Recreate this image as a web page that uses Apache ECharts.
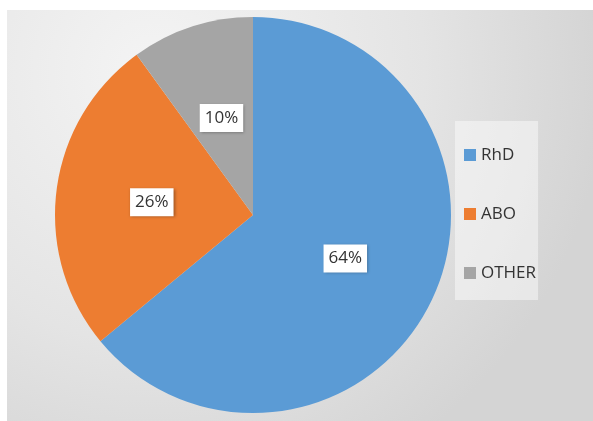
<!DOCTYPE html>
<html>
<head>
<meta charset="UTF-8">
<title>Pie</title>
<script type="text/javascript" src="https://cdn.jsdelivr.net/npm/echarts@6/dist/echarts.min.js"></script>
<style>
  body{margin:0;background:#fff}
</style>
</head>
<body>
<div id="main" style="width:593px;height:421px"></div>
<script type="text/javascript">
var categories = ['RhD', 'ABO', 'OTHER'];
var values = [64, 26, 10];
var colors = ['#5b9bd5', '#ed7d31', '#a5a5a5'];

var myEcharts = echarts.init(document.getElementById('main'));

var pieData = categories.map(function (name, i) {
    return { name: name, value: values[i], itemStyle: { color: colors[i] } };
});

var option = {
    animation: false,
    graphic: [{
        type: 'rect',
        left: 7, top: 10,
        shape: { width: 586, height: 411 },
        style: {
            fill: new echarts.graphic.RadialGradient(0.25, 0.15, 1.1, [
                { offset: 0, color: '#f4f4f4' },
                { offset: 0.6, color: '#e4e4e4' },
                { offset: 1, color: '#d4d4d4' }
            ])
        },
        z: -10
    }],
    legend: {
        orient: 'vertical',
        left: 455,
        top: 121,
        padding: [25, 2, 18, 9],
        backgroundColor: 'rgba(255,255,255,0.45)',
        itemWidth: 12,
        itemHeight: 12,
        itemGap: 41,
        itemTextGap: 6,
        icon: 'rect',
        textStyle: { fontFamily: 'Open Sans', fontSize: 17, color: '#333', lineHeight: 18 },
        data: categories
    },
    series: [{
        type: 'pie',
        center: [253, 215],
        radius: 198,
        startAngle: 90,
        clockwise: true,
        label: {
            position: 'inside',
            formatter: '{c}%',
            fontFamily: 'Open Sans',
            fontSize: 17,
            color: '#333',
            backgroundColor: '#fff',
            padding: [6, 5, 5, 5],
            shadowColor: 'rgba(0,0,0,0.35)',
            shadowBlur: 3,
            shadowOffsetX: 1,
            shadowOffsetY: 1
        },
        labelLine: { show: false },
        itemStyle: { borderWidth: 0 },
        emphasis: { disabled: true },
        data: pieData
    }]
};
myEcharts.setOption(option);
</script>
</body>
</html>
